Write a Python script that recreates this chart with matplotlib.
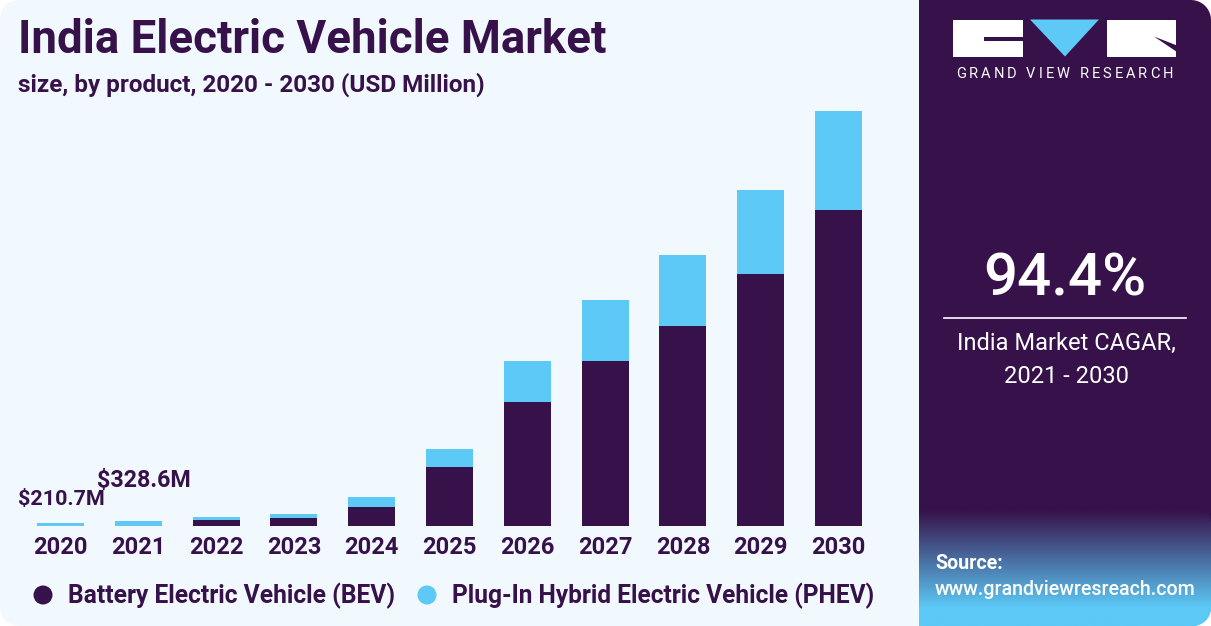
import numpy as np
import matplotlib
matplotlib.use("Agg")
import matplotlib.pyplot as plt
from matplotlib.patches import FancyBboxPatch, Rectangle, Polygon, Circle
from matplotlib.path import Path
from matplotlib.patches import PathPatch
from matplotlib.colors import to_rgb

# ---------------- data ----------------
years = ["2020", "2021", "2022", "2023", "2024", "2025", "2026", "2027", "2028", "2029", "2030"]
bev = [0, 0, 420, 560, 1330, 4130, 8680, 11550, 14000, 17640, 22120]
phev = [210.7, 328.6, 210, 280, 700, 1260, 2870, 4270, 4970, 5880, 6930]
label_years = ["2020", "2021"]
label_texts = ["$210.7M", "$328.6M"]
series_names = ["Battery Electric Vehicle (BEV)", "Plug-In Hybrid Electric Vehicle (PHEV)"]
title = "India Electric Vehicle Market"
subtitle = "size, by product, 2020 - 2030 (USD Million)"
cagr = "94.4%"
cagr_label = ["India Market CAGAR,", "2021 - 2030"]

# ---------------- style ----------------
DARK = "#36114A"
LIGHT = "#5CC9F6"
BG = "#F1F8FE"
FONT = "Roboto"
W, H = 1211, 626

plt.rcParams["font.family"] = [FONT, "DejaVu Sans"]

fig = plt.figure(figsize=(W / 100, H / 100), dpi=100, facecolor="white")
renderer = fig.canvas.get_renderer()

# background axes in pixel coordinates (y down)
bg = fig.add_axes([0, 0, 1, 1], zorder=0)
bg.set_xlim(0, W)
bg.set_ylim(H, 0)
bg.axis("off")

# left panel
bg.add_patch(FancyBboxPatch((0, 0), 960, H, boxstyle="round,pad=0,rounding_size=22",
                            facecolor=BG, edgecolor="none"))


def panel_path(x0, x1, y0, y1, r):
    verts = [(x0, y0), (x1 - r, y0)]
    for a in np.linspace(-90, 0, 12):
        verts.append((x1 - r + r * np.cos(np.radians(a)), y0 + r + r * np.sin(np.radians(a))))
    for a in np.linspace(0, 90, 12):
        verts.append((x1 - r + r * np.cos(np.radians(a)), y1 - r + r * np.sin(np.radians(a))))
    verts += [(x0, y1), (x0, y0)]
    codes = [Path.MOVETO] + [Path.LINETO] * (len(verts) - 2) + [Path.CLOSEPOLY]
    return Path(verts, codes)


rp = PathPatch(panel_path(919, W, 0, H, 20), facecolor=DARK, edgecolor="none")
bg.add_patch(rp)

# gradient at the bottom of the right panel
g0, g1 = 505, 626
n = 200
yy = np.linspace(g0, g1, n)
t = np.clip((yy - 510) / (608 - 510), 0, 1)
c0, c1 = np.array(to_rgb(DARK)), np.array(to_rgb(LIGHT))
grad = (c0[None, :] * (1 - t[:, None]) + c1[None, :] * t[:, None])[:, None, :]
im = bg.imshow(grad, extent=[919, W, g1, g0], aspect="auto", interpolation="bilinear", zorder=1)
clip = PathPatch(panel_path(919, W, g0, g1, 18), transform=bg.transData, facecolor="none", edgecolor="none")
bg.add_patch(clip)
im.set_clip_path(clip)
bg.set_xlim(0, W)
bg.set_ylim(H, 0)


def fit(txt, width):
    bb = txt.get_window_extent(renderer)
    txt.set_fontsize(txt.get_fontsize() * width / bb.width)
    return txt


# logo
bg.add_patch(Rectangle((953, 19.5), 70, 37.5, facecolor="white", edgecolor="none", zorder=2))
bg.add_patch(Rectangle((984, 37), 40, 3.5, facecolor=DARK, edgecolor="none", zorder=3))
bg.add_patch(Polygon([(1030, 19.5), (1099, 19.5), (1065, 56.5)], closed=True, facecolor=LIGHT,
                     edgecolor="none", zorder=2))
bg.add_patch(Rectangle((1107, 19.5), 69, 37.5, facecolor="white", edgecolor="none", zorder=2))
bg.add_patch(Polygon([(1154, 36.5), (1177, 45.5), (1177, 52)], closed=True, facecolor=DARK,
                     edgecolor="none", zorder=3))

logo_txt = "GRAND VIEW RESEARCH"
chars = []
for ch in logo_txt:
    chars.append(bg.text(0, 78, ch, fontsize=10.5, color="white", ha="left", va="baseline", zorder=3))
widths = [c.get_window_extent(renderer).width for c in chars]
total = 1173 - 956
track = (total - sum(widths)) / (len(chars) - 1)
xpos = 956
for c, w in zip(chars, widths):
    c.set_x(xpos)
    xpos += w + track

# titles
fit(bg.text(18, 53, title, fontsize=30, fontweight="bold", color=DARK, ha="left", va="baseline"), 587)
fit(bg.text(18, 92, subtitle, fontsize=16, fontweight="bold", color=DARK, ha="left", va="baseline"), 468)

# right panel texts
fit(bg.text(1065, 295, cagr, fontsize=40, fontweight="medium", color="white", ha="center", va="baseline",
            zorder=3), 163)
bg.plot([944, 1186], [317.5, 317.5], color="white", lw=1.2, zorder=3)
t1 = fit(bg.text(1066, 350, cagr_label[0], fontsize=16, color="white", ha="center", va="baseline", zorder=3), 218)
bg.text(1066, 383, cagr_label[1], fontsize=t1.get_fontsize(), color="white", ha="center", va="baseline",
        zorder=3)
src = bg.text(935, 569, "Source:", fontsize=12, fontweight="bold", color="white", ha="left", va="baseline",
              zorder=3)
url = fit(bg.text(935, 595, "www.grandviewresreach.com", fontsize=12, fontweight="medium", color="white",
                  ha="left", va="baseline", zorder=3), 259)
src.set_fontsize(url.get_fontsize())

# legend
bg.add_patch(Circle((43, 595), 9.5, facecolor=DARK, edgecolor="none"))
bg.add_patch(Circle((427, 595), 9.5, facecolor=LIGHT, edgecolor="none"))
fit(bg.text(68, 603, series_names[0], fontsize=16, fontweight="bold", color=DARK, ha="left", va="baseline"), 328)
fit(bg.text(452, 603, series_names[1], fontsize=16, fontweight="bold", color=DARK, ha="left", va="baseline"), 424)

# ---------------- chart ----------------
ax_left, ax_right, ax_bottom, ax_top = 13.8, 885.2, 526, 100
ax = fig.add_axes([ax_left / W, (H - ax_bottom) / H, (ax_right - ax_left) / W, (ax_bottom - ax_top) / H],
                  zorder=2)
ax.patch.set_alpha(0)
x = np.arange(len(years))
bev_a = np.array(bev, dtype=float)
phev_a = np.array(phev, dtype=float)
ax.bar(x, bev_a, width=0.604, color=DARK, linewidth=0)
ax.bar(x, phev_a, bottom=bev_a, width=0.604, color=LIGHT, linewidth=0)
ax.set_xlim(-0.6, 10.6)
ymax = (bev_a[-1] + phev_a[-1]) * (ax_bottom - ax_top) / (ax_bottom - 111)
ax.set_ylim(0, ymax)
for s in ax.spines.values():
    s.set_visible(False)
ax.set_yticks([])
ax.set_xticks(x, years)
ax.tick_params(axis="x", length=0, pad=20.2, labelsize=17, labelcolor=DARK)
for lbl in ax.get_xticklabels():
    lbl.set_fontweight("bold")
    lbl.set_va("baseline")

offsets = [(0.5, 18), (6, 34)]
for yr, txt, off in zip(label_years, label_texts, offsets):
    i = years.index(yr)
    a = ax.annotate(txt, xy=(i, bev_a[i] + phev_a[i]), xytext=off, textcoords="offset pixels",
                    ha="center", va="baseline", fontsize=15, fontweight="bold", color=DARK)
    fit(a, 87 if i == 0 else 94)

fig.savefig("out.png", dpi=100, facecolor="white")
